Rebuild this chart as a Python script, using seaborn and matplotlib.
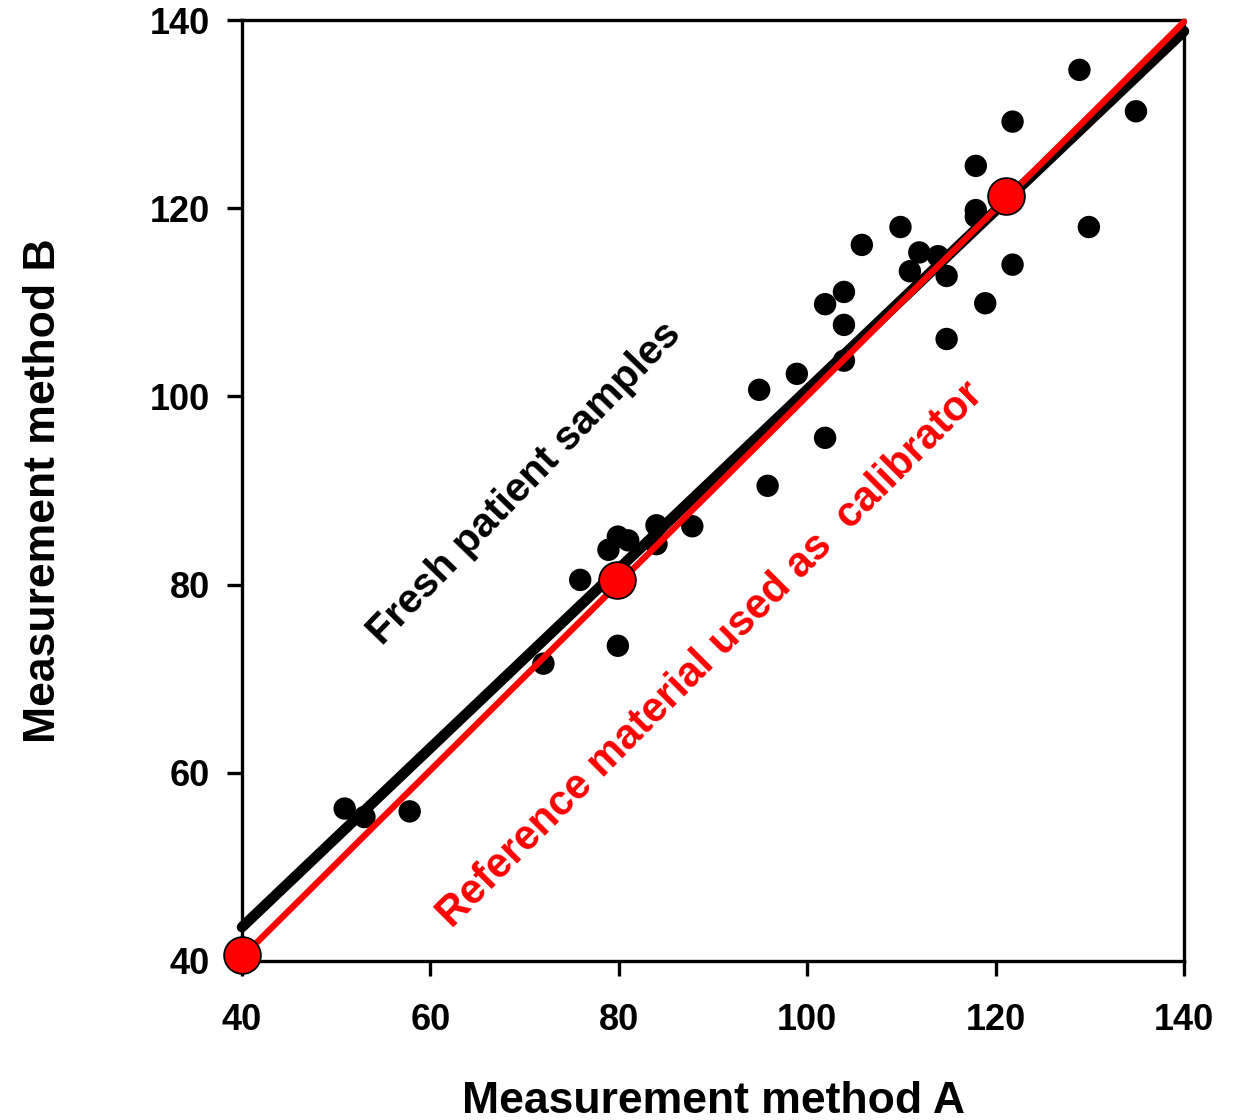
import matplotlib
matplotlib.use("Agg")
import matplotlib.pyplot as plt
import seaborn as sns
import pandas as pd

# Fresh patient samples (method A, method B)
patient_a = [50.9, 53.0, 57.8, 72.0, 75.9, 78.9, 79.9, 81.0, 84.0, 84.0, 79.9, 87.8,
             94.9, 95.8, 98.9, 101.9, 101.9, 103.9, 103.9, 103.9, 105.8, 109.9, 110.9,
             111.9, 113.9, 114.8, 114.8, 117.9, 117.9, 117.9, 118.9, 121.8, 121.8,
             128.9, 129.9, 134.9]
patient_b = [56.2, 55.3, 55.9, 71.6, 80.5, 83.7, 85.1, 84.7, 86.3, 84.3, 73.5, 86.2,
             100.7, 90.5, 102.4, 95.6, 109.8, 111.1, 107.6, 103.8, 116.1, 118.0, 113.3,
             115.3, 114.9, 112.8, 106.1, 124.5, 119.8, 119.1, 109.9, 129.2, 114.0,
             134.7, 118.0, 130.3]

# Reference material (calibrator) points
ref_a = [40.0, 79.8, 121.1]
ref_b = [40.6, 80.5, 121.3]

# Regression lines (end points)
patient_line_x = [40, 140]
patient_line_y = [43.6, 138.8]
ref_line_x = [40, 140]
ref_line_y = [40.4, 139.8]

ticks = [40, 60, 80, 100, 120, 140]

sns.set_theme(style="white")
plt.rcParams['font.family'] = ['Liberation Sans', 'DejaVu Sans']
plt.rcParams['font.weight'] = 'bold'
plt.rcParams['text.color'] = 'black'
plt.rcParams['axes.labelcolor'] = 'black'
plt.rcParams['xtick.color'] = 'black'
plt.rcParams['ytick.color'] = 'black'

fig = plt.figure(figsize=(12.36, 11.2), dpi=100)
ax = fig.add_axes([242/1236, 1 - 961/1120, (1184-242)/1236, (961-20)/1120])

df_p = pd.DataFrame({"A": patient_a, "B": patient_b})
df_r = pd.DataFrame({"A": ref_a, "B": ref_b})
df_pl = pd.DataFrame({"A": patient_line_x, "B": patient_line_y})
df_rl = pd.DataFrame({"A": ref_line_x, "B": ref_line_y})

sns.scatterplot(data=df_p, x="A", y="B", ax=ax, color="black", s=260,
                edgecolor="none", zorder=2, clip_on=False)
sns.lineplot(data=df_pl, x="A", y="B", ax=ax, color="black", lw=7.6,
             zorder=3, clip_on=False, solid_capstyle="round")
sns.lineplot(data=df_rl, x="A", y="B", ax=ax, color="#ff0000", lw=4.6,
             zorder=4, clip_on=False, solid_capstyle="round")
sns.scatterplot(data=df_r, x="A", y="B", ax=ax, color="#ff0000", s=700,
                edgecolor="black", linewidth=1.3, zorder=5, clip_on=False)

ax.set_xlim(40, 140)
ax.set_ylim(40, 140)
ax.set_xticks(ticks)
ax.set_yticks(ticks)
ax.set_xticklabels([str(t) for t in ticks])
ax.set_yticklabels([str(t) for t in ticks])

for sp in ax.spines.values():
    sp.set_visible(True)
    sp.set_color("black")
    sp.set_linewidth(2.4)

ax.tick_params(axis="x", direction="out", length=11, width=2.4, colors="black",
               labelsize=26, pad=19, bottom=True, top=False)
ax.tick_params(axis="y", direction="out", length=11, width=2.4, colors="black",
               labelsize=26, pad=12, left=True, right=False)
for lab in ax.get_xticklabels() + ax.get_yticklabels():
    lab.set_fontweight("bold")

ax.set_xlabel("Measurement method A", fontsize=32, fontweight="bold", labelpad=31,
              color="black")
ax.set_ylabel("Measurement method B", fontsize=32, fontweight="bold", labelpad=62,
              color="black")

ax.text(70.0, 90.8, "Fresh patient samples", rotation=46, rotation_mode="anchor",
        ha="center", va="center", fontsize=29.5, fontweight="bold", color="black",
        zorder=6)
ax.text(89.7, 72.5, "Reference material used as  calibrator", rotation=45,
        rotation_mode="anchor", ha="center", va="center", fontsize=30,
        fontweight="bold", color="#ff0000", zorder=6)

fig.savefig("out.png", dpi=100)
